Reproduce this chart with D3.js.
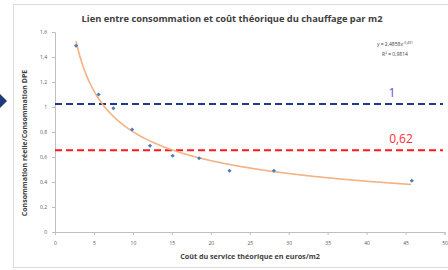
<!DOCTYPE html>
<html>
<head>
<meta charset="utf-8">
<script src="https://cdn.jsdelivr.net/npm/d3@7"></script>
<style>
  body { margin: 0; background: #fff; }
  text { font-family: "Open Sans", sans-serif; }
</style>
</head>
<body>
<script>
// data
var costs = [2.7, 5.6, 7.5, 9.9, 12.2, 15.1, 18.5, 22.4, 28.1, 45.8];
var ratios = [1.49, 1.10, 0.99, 0.82, 0.69, 0.61, 0.59, 0.49, 0.49, 0.41];
var xTicks = [0, 5, 10, 15, 20, 25, 30, 35, 40, 45, 50];
var yTicks = [0, 0.2, 0.4, 0.6, 0.8, 1, 1.2, 1.4, 1.6];
// power trendline y = a * x^b
var trendCoef = [2.4858, -0.491];
var refValues = [1.025, 0.655];
var refLabels = ["1", "0,62"];
var refColors = ["#1f3a8a", "#ff1a1a"];
var refLabelColors = ["#5a4fd6", "#ff2a3a"];

var W = 448, H = 270;
var svg = d3.select("body").append("svg")
  .attr("width", W)
  .attr("height", H);

// outer frame
svg.append("rect")
  .attr("x", 13.5).attr("y", 4.5)
  .attr("width", 450).attr("height", 263)
  .attr("fill", "#fff")
  .attr("stroke", "#d9d9d9");

// little arrow on the left
svg.append("path")
  .attr("d", "M0,94 L7,101 L0,108 Z")
  .attr("fill", "#1f3a7a");

var x = d3.scaleLinear().domain([0, 50]).range([55, 444.5]);
var y = d3.scaleLinear().domain([0, 1.6]).range([232, 32]);

var fmt = function(d) { return String(d).replace(".", ","); };

// axes
var xAxis = svg.append("g")
  .attr("transform", "translate(0," + y(0) + ")")
  .call(d3.axisBottom(x).tickValues(xTicks).tickSize(3).tickPadding(6).tickFormat(fmt));
var yAxis = svg.append("g")
  .attr("transform", "translate(" + x(0) + ",0)")
  .call(d3.axisLeft(y).tickValues(yTicks).tickSize(3).tickPadding(5).tickFormat(fmt));

[xAxis, yAxis].forEach(function(g) {
  g.select(".domain").attr("stroke", "#bfbfbf");
  g.selectAll(".tick line").attr("stroke", "#bfbfbf");
  g.selectAll(".tick text")
    .attr("fill", "#595959")
    .style("font-size", "5px")
    .style("font-family", "Open Sans, sans-serif");
});

// reference dashed lines
refValues.forEach(function(v, i) {
  svg.append("line")
    .attr("x1", x(0)).attr("x2", 443)
    .attr("y1", y(v)).attr("y2", y(v))
    .attr("stroke", refColors[i])
    .attr("stroke-width", 2)
    .attr("stroke-dasharray", "7,4");
  svg.append("text")
    .attr("x", i == 0 ? 392 : 401)
    .attr("y", y(v) - 7)
    .attr("text-anchor", "middle")
    .attr("fill", refLabelColors[i])
    .style("font-size", "12px")
    .text(refLabels[i]);
});

// trendline
var trendX = d3.range(costs[0], costs[costs.length - 1] + 0.01, 0.2);
var line = d3.line()
  .x(function(d) { return x(d); })
  .y(function(d) { return y(trendCoef[0] * Math.pow(d, trendCoef[1])); })
  .curve(d3.curveMonotoneX);
svg.append("path")
  .datum(trendX)
  .attr("d", line)
  .attr("fill", "none")
  .attr("stroke", "#f4b183")
  .attr("stroke-width", 1.6);

// points
svg.selectAll(".pt")
  .data(costs)
  .enter().append("path")
  .attr("class", "pt")
  .attr("d", d3.symbol().type(d3.symbolSquare).size(9))
  .attr("transform", function(d, i) { return "translate(" + x(d) + "," + y(ratios[i]) + ") rotate(45)"; })
  .attr("fill", "#4a7ebb");

// titles
svg.append("text")
  .attr("x", 232).attr("y", 22)
  .attr("text-anchor", "middle")
  .attr("fill", "#404040")
  .style("font-size", "9.3px")
  .style("font-weight", "bold")
  .text("Lien entre consommation et coût théorique du chauffage par m2");

svg.append("text")
  .attr("x", 250).attr("y", 259)
  .attr("text-anchor", "middle")
  .attr("fill", "#404040")
  .style("font-size", "7.2px")
  .style("font-weight", "bold")
  .text("Coût du service théorique en euros/m2");

svg.append("text")
  .attr("transform", "translate(27,143) rotate(-90)")
  .attr("text-anchor", "middle")
  .attr("fill", "#404040")
  .style("font-size", "7px")
  .style("font-weight", "bold")
  .text("Consommation réelle/Consommation DPE");

// equation
var eq = svg.append("text")
  .attr("x", 395).attr("y", 46)
  .attr("text-anchor", "middle")
  .attr("fill", "#404040")
  .style("font-size", "5px");
eq.append("tspan").text("y = 2,4858x");
eq.append("tspan").attr("dy", -2).style("font-size", "3.5px").text("-0,491");
svg.append("text")
  .attr("x", 395).attr("y", 56)
  .attr("text-anchor", "middle")
  .attr("fill", "#404040")
  .style("font-size", "5px")
  .text("R² = 0,9814");
</script>
</body>
</html>
